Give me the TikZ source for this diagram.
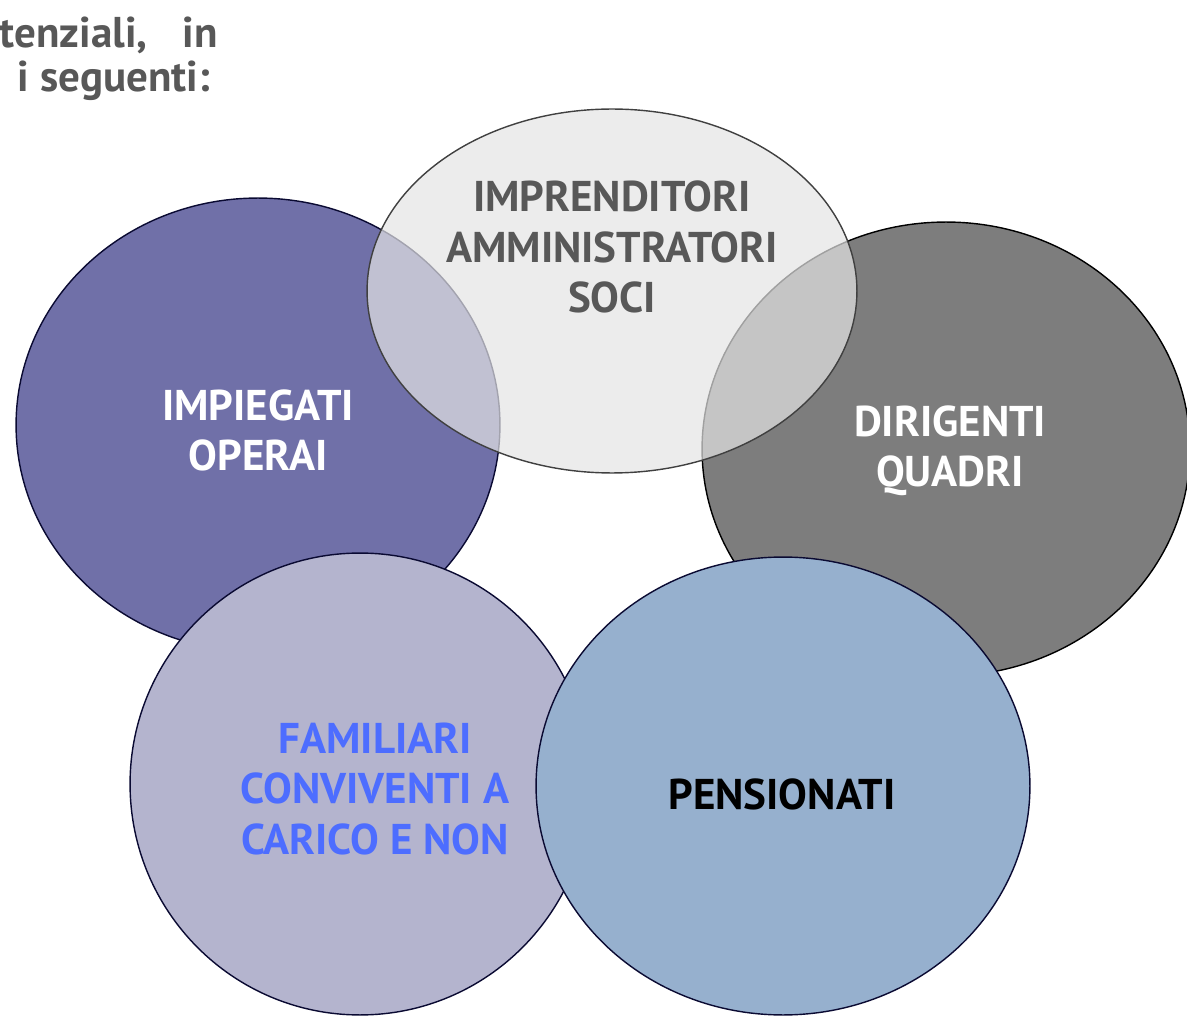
\documentclass[tikz,border=0pt]{standalone}
\usepackage{fontspec}
\setmainfont{PT Sans}
\usetikzlibrary{shapes.geometric}

\definecolor{navyline}{RGB}{10,10,50}
\definecolor{impiegati}{RGB}{112,112,168}
\definecolor{imprenditori}{RGB}{228,228,228}
\definecolor{dirigenti}{RGB}{125,125,125}
\definecolor{familiari}{RGB}{180,180,206}
\definecolor{pensionati}{RGB}{150,176,206}
\definecolor{graytext}{RGB}{88,88,88}
\definecolor{bluetext}{RGB}{77,109,255}

\begin{document}
\begin{tikzpicture}[x=0.02cm, y=-0.02cm,
    blob/.style={ellipse, draw, inner sep=0pt, line width=0.8pt},
    txt/.style={font=\bfseries\fontsize{24.5}{28.5}\selectfont, align=center}]
  \useasboundingbox (0,0) rectangle (1187,1020);

  % intro text, cut at the left
  \node[txt, graytext, anchor=base east] (intro1) at (224,48) {tenziali,\hspace{20pt}in};
  \node[txt, graytext, anchor=base east] (intro2) at (216,92) {i seguenti:};

  % ellipses
  \node[blob, draw=navyline, fill=impiegati, minimum width=9.68cm, minimum height=9.08cm] (impiegati) at (258,425) {};
  \node[blob, draw=black, fill=dirigenti, minimum width=9.76cm, minimum height=9.08cm] (dirigenti) at (946,449) {};
  \node[blob, draw=black!75, fill=imprenditori, fill opacity=0.7, minimum width=9.8cm, minimum height=7.28cm] (imprenditori) at (612,291) {};
  \node[blob, draw=navyline, fill=familiari, minimum width=9.2cm, minimum height=9.24cm] (familiari) at (360,784) {};
  \node[blob, draw=navyline, fill=pensionati, minimum width=9.88cm, minimum height=9.16cm] (pensionati) at (783,786) {};

  % labels
  \node[txt, graytext] (imprenditoritxt) at (612,247) {IMPRENDITORI\\AMMINISTRATORI\\SOCI};
  \node[txt, white] (impiegatitxt) at (258,430) {IMPIEGATI\\OPERAI};
  \node[txt, white] (dirigentitxt) at (950,451) {DIRIGENTI\\QUADRI};
  \node[txt, bluetext] (familiaritxt) at (375,789) {FAMILIARI\\CONVIVENTI A\\CARICO E NON};
  \node[txt, black] (pensionatitxt) at (782,794) {PENSIONATI};
\end{tikzpicture}
\end{document}
